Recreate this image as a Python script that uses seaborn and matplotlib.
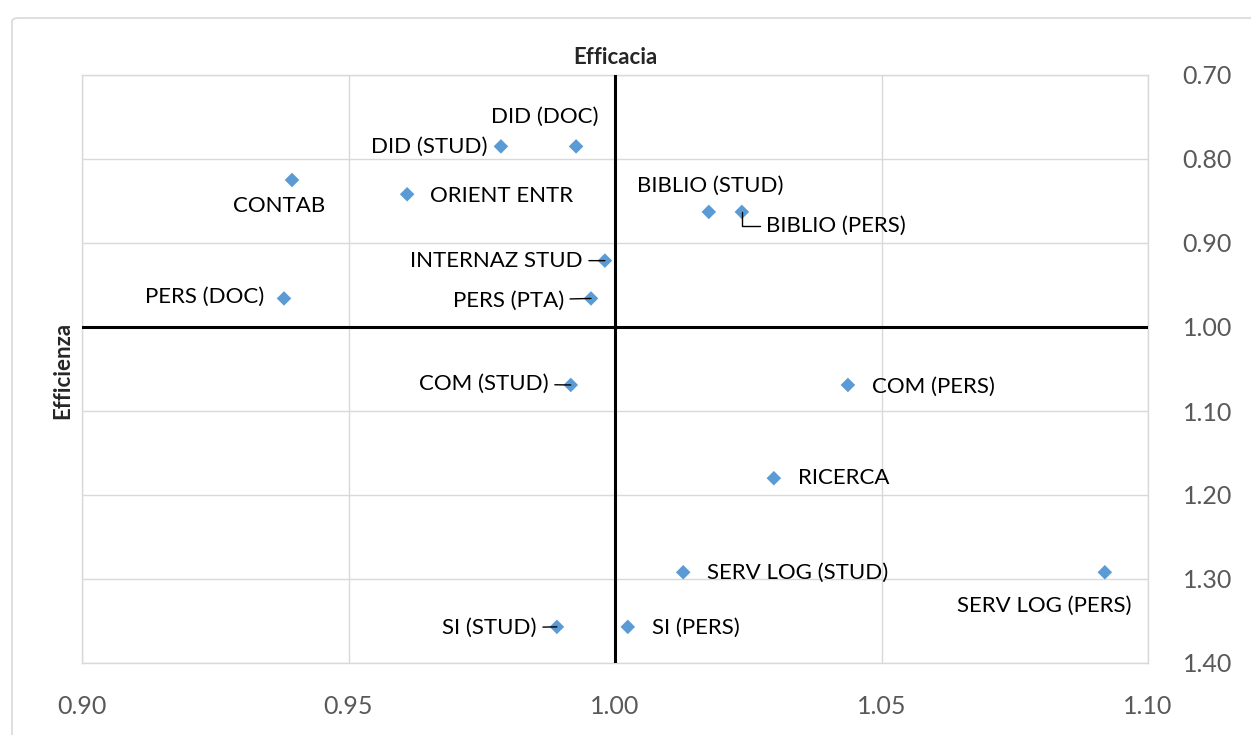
import matplotlib
matplotlib.use("Agg")
import matplotlib.pyplot as plt
from matplotlib.patches import FancyBboxPatch
import seaborn as sns
import pandas as pd

# data
labels = ["DID (DOC)", "DID (STUD)", "CONTAB", "ORIENT ENTR", "BIBLIO (STUD)",
          "BIBLIO (PERS)", "INTERNAZ STUD", "PERS (DOC)", "PERS (PTA)", "COM (STUD)",
          "COM (PERS)", "RICERCA", "SERV LOG (STUD)", "SERV LOG (PERS)", "SI (STUD)",
          "SI (PERS)"]
efficacia = [0.9927, 0.9786, 0.9394, 0.9610, 1.0176, 1.0238, 0.9981, 0.9379, 0.9955,
             0.9917, 1.0437, 1.0298, 1.0128, 1.0919, 0.9891, 1.0024]
efficienza = [0.785, 0.785, 0.825, 0.842, 0.863, 0.863, 0.921, 0.966, 0.966, 1.069,
              1.069, 1.180, 1.292, 1.292, 1.357, 1.357]

x_ticks = [0.90, 0.95, 1.00, 1.05, 1.10]
y_ticks = [0.70, 0.80, 0.90, 1.00, 1.10, 1.20, 1.30, 1.40]

df = pd.DataFrame({"label": labels, "Efficacia": efficacia, "Efficienza": efficienza})

# label placement: (dx px, dy px, ha, leader style)
label_pos = {
    "DID (DOC)": (-31, 30, "center", None),
    "DID (STUD)": (-13, 0, "right", None),
    "CONTAB": (-13, -26, "center", None),
    "ORIENT ENTR": (23, -2, "left", None),
    "BIBLIO (STUD)": (1, 26, "center", None),
    "BIBLIO (PERS)": (24, -14, "left", "angle,angleA=0,angleB=90,rad=0"),
    "INTERNAZ STUD": (-22, 0, "right", "arc3"),
    "PERS (DOC)": (-20, 2, "right", None),
    "PERS (PTA)": (-27, -2, "right", "arc3"),
    "COM (STUD)": (-22, 1, "right", "arc3"),
    "COM (PERS)": (24, -2, "left", None),
    "RICERCA": (24, 0, "left", None),
    "SERV LOG (STUD)": (24, -1, "left", None),
    "SERV LOG (PERS)": (27, -34, "right", None),
    "SI (STUD)": (-20, -1, "right", "arc3"),
    "SI (PERS)": (24, -1, "left", None),
}

sns.set_style("white")
plt.rcParams["font.family"] = ["Lato", "DejaVu Sans"]

fig = plt.figure(figsize=(12.51, 7.35), dpi=100)
ax = fig.add_axes([82 / 1251, 1 - 663 / 735, (1148 - 82) / 1251, (663 - 75) / 735])

# outer chart border
fig.patches.append(FancyBboxPatch((12 / 1251, -0.01), 1.2, 1.01 - 18 / 735,
                                  boxstyle="round,pad=0,rounding_size=0.005",
                                  transform=fig.transFigure, fill=False,
                                  edgecolor="#D9D9D9", lw=1.2))

sns.scatterplot(data=df, x="Efficacia", y="Efficienza", marker="D", s=55,
                color="#5B9BD5", edgecolor="none", ax=ax, zorder=4)

ax.set_xlim(0.90, 1.10)
ax.set_ylim(1.40, 0.70)
ax.set_xticks(x_ticks)
ax.set_yticks(y_ticks)
ax.set_xticklabels([f"{v:.2f}" for v in x_ticks])
ax.set_yticklabels([f"{v:.2f}" for v in y_ticks])
ax.yaxis.tick_right()
ax.tick_params(axis="x", length=0, pad=23, labelsize=18, labelcolor="#595959")
ax.tick_params(axis="y", length=0, pad=25, labelsize=18, labelcolor="#595959")
ax.grid(True, color="#D9D9D9", lw=1)
for sp in ax.spines.values():
    sp.set_color("#D9D9D9")
    sp.set_linewidth(1)
ax.set_xlabel("")
ax.set_ylabel("")

ax.axvline(1.0, color="black", lw=2.2, zorder=3)
ax.axhline(1.0, color="black", lw=2.2, zorder=3)

for lab, x, y in zip(labels, efficacia, efficienza):
    dx, dy, ha, conn = label_pos[lab]
    arrow = None
    if conn is not None:
        arrow = dict(arrowstyle="-", color="black", lw=1, connectionstyle=conn,
                     shrinkA=2, shrinkB=0)
    ax.annotate(lab, xy=(x, y), xytext=(dx, dy), textcoords="offset pixels",
                ha=ha, va="center", fontsize=16, color="black",
                arrowprops=arrow, zorder=5)

fig.text(615 / 1251, 1 - 57 / 735, "Efficacia", ha="center", va="center",
         fontsize=16, fontweight="bold")
fig.text(63 / 1251, 1 - 370 / 735, "Efficienza", ha="center", va="center",
         rotation=90, fontsize=16, fontweight="bold")

fig.savefig("out.png", dpi=100)
